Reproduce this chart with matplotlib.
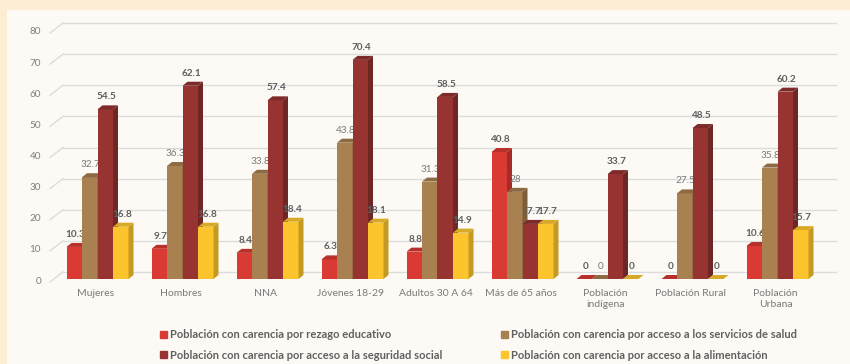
import numpy as np
import matplotlib
matplotlib.use("Agg")
import matplotlib.pyplot as plt
from matplotlib.patches import Polygon, Patch, Rectangle
from matplotlib.transforms import offset_copy

plt.rcParams['font.family'] = ['Lato', 'DejaVu Sans']

# data
categorias = ['Mujeres', 'Hombres', 'NNA', 'Jóvenes 18-29', 'Adultos 30 A 64',
              'Más de 65 años', 'Población\nindígena', 'Población Rural',
              'Población\nUrbana']
rezago = [10.3, 9.7, 8.4, 6.3, 8.8, 40.8, 0, 0, 10.6]
salud = [32.7, 36.3, 33.8, 43.8, 31.3, 28, 0, 27.5, 35.8]
seguridad = [54.5, 62.1, 57.4, 70.4, 58.5, 17.7, 33.7, 48.5, 60.2]
alimentacion = [16.8, 16.8, 18.4, 18.1, 14.9, 17.7, 0, 0, 15.7]

series = [
    ('Población con carencia por rezago educativo', rezago,
     '#d93a34', '#a82a26', '#b8302b', True),
    ('Población con carencia por acceso a los servicios de salud', salud,
     '#a9804f', '#7e5e38', '#8c6a42', False),
    ('Población con carencia por acceso a la seguridad social', seguridad,
     '#973432', '#6e2725', '#7c2b29', True),
    ('Población con carencia por acceso a la alimentación', alimentacion,
     '#fdc52d', '#c49a22', '#d8a827', True),
]

W, H, DPI = 850, 364, 100
fig = plt.figure(figsize=(W / DPI, H / DPI), dpi=DPI)
fig.patch.set_facecolor('#fdedd4')
fig.patches.append(Rectangle((7 / W, 0), 1, 1 - 10 / H, transform=fig.transFigure,
                             facecolor='#fdfaf5', edgecolor='none', zorder=-10))

# axes = plane of the bar front faces (pixels)
x0_px, x1_px = 54, 827
y0_px, y80_px = 279, 30
ax = fig.add_axes([x0_px / W, 1 - y0_px / H, (x1_px - x0_px) / W,
                   (y0_px - y80_px) / H])
ax.set_facecolor('none')
for s in ax.spines.values():
    s.set_visible(False)
ax.set_xticks([])
ax.set_yticks([])

pitch = 85.0
xmin = -(97.5 - x0_px) / pitch
xmax = xmin + (x1_px - x0_px) / pitch
ax.set_xlim(xmin, xmax)
ax.set_ylim(0, 80)

ux = (xmax - xmin) / (x1_px - x0_px)   # data units per pixel
uy = 80.0 / (y0_px - y80_px)

# back wall gridlines with perspective ticks at left
back = offset_copy(ax.transData, fig=fig, x=9, y=7, units='dots')
for v in range(0, 81, 10):
    ax.plot([xmin, xmax], [v, v], color='#dcdcdc', lw=1.0, transform=back,
            zorder=1, clip_on=False)
    ax.plot([xmin - 4 * ux, xmin + 9 * ux], [v - 3 * uy, v + 7 * uy],
            color='#dcdcdc', lw=1.0, zorder=1, clip_on=False)
    ax.text(xmin - 13 * ux, v - 2 * uy, str(v), ha='right', va='center',
            fontsize=7.2, color='#7f7f7f')

bw = 15.5 * ux
dx, dy = 5 * ux, 4 * uy
xs = np.arange(len(categorias))

for k, (name, vals, face, side, top, bold) in enumerate(series):
    pos = xs + (k - 1.5) * bw
    ax.bar(pos, vals, width=bw, color=face, zorder=3 + k, linewidth=0)
    for x, v in zip(pos, vals):
        xl, xr = x - bw / 2, x + bw / 2
        ax.add_patch(Polygon([(xr, 0), (xr + dx, dy), (xr + dx, v + dy), (xr, v)],
                             closed=True, facecolor=side, edgecolor='none',
                             zorder=3 + k))
        ax.add_patch(Polygon([(xl, v), (xr, v), (xr + dx, v + dy), (xl + dx, v + dy)],
                             closed=True, facecolor=top, edgecolor='none',
                             zorder=3 + k))
        # value label sits over earlier series, under later ones
        lbl = f'{v:g}'
        ax.text(x + 1 * ux, v + dy + 4 * uy, lbl, ha='center', va='bottom',
                fontsize=7.2, color='#5f5f5f' if bold else '#7a7a7a',
                fontweight='bold' if bold else 'normal', zorder=3.5 + k)

for x, c in zip(xs, categorias):
    ax.text(x - 2 * ux, -10 * uy, c, ha='center', va='top', fontsize=7.5,
            color='#7a7a7a', linespacing=1.25)

handles = [Patch(color=s[2], label=s[0]) for s in series]
order = [0, 2, 1, 3]
leg = fig.legend([handles[i] for i in order], [series[i][0] for i in order],
                 ncol=2, loc='upper left', bbox_to_anchor=(150 / W, 1 - 319 / H),
                 frameon=False, handlelength=0.6, handleheight=0.6,
                 handletextpad=0.3, columnspacing=5.3, labelspacing=0.87,
                 prop={'size': 8.0, 'weight': 'bold'})
for t in leg.get_texts():
    t.set_color('#606060')

fig.savefig('out.png', dpi=DPI, facecolor=fig.get_facecolor())
